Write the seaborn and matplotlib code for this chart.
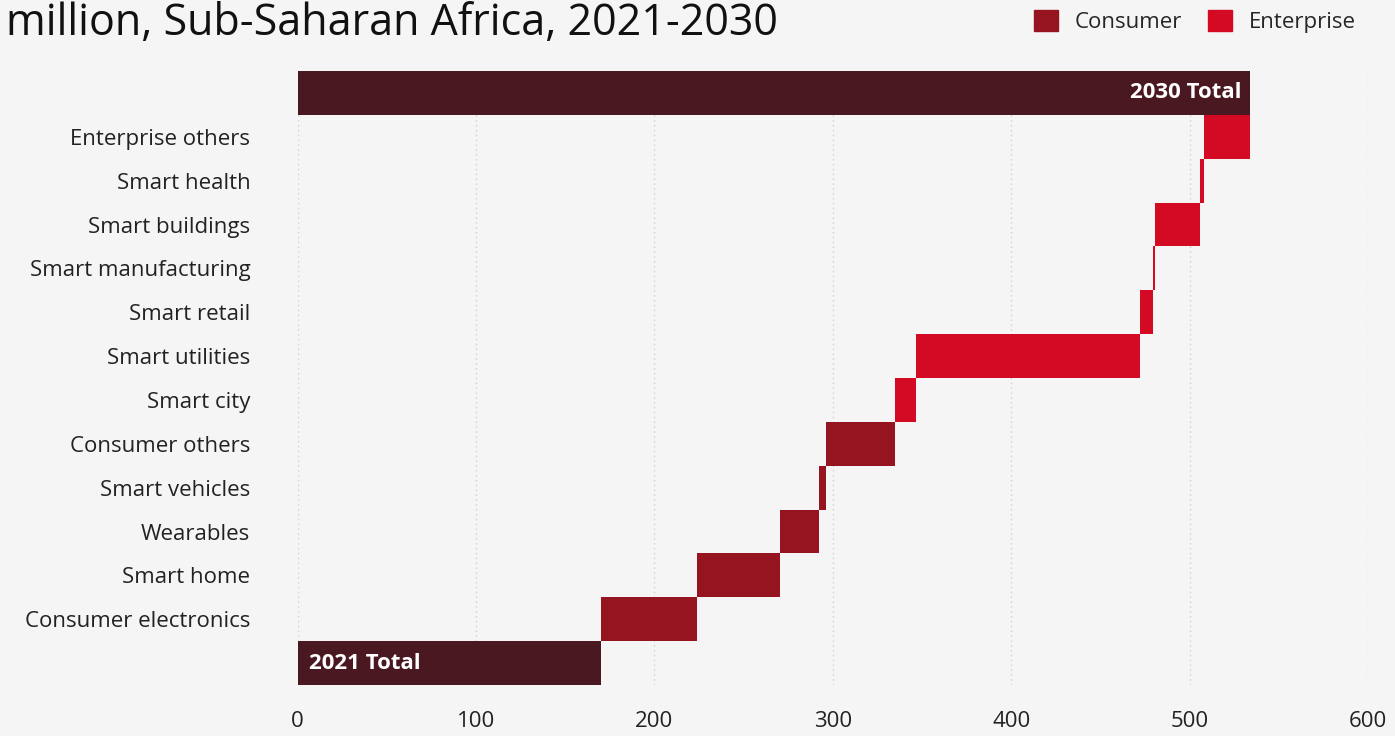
import pandas as pd
import matplotlib.pyplot as plt
import seaborn as sns
from matplotlib.patches import Patch

# valores (milhões)
categorias = ['Consumer electronics', 'Smart home', 'Wearables', 'Smart vehicles',
              'Consumer others', 'Smart city', 'Smart utilities', 'Smart retail',
              'Smart manufacturing', 'Smart buildings', 'Smart health', 'Enterprise others']
incrementos = [54, 46.5, 22, 3.5, 39, 11.6, 125.4, 7.7, 0.8, 25.1, 2.3, 26.2]
segmentos = ['Consumer'] * 5 + ['Enterprise'] * 7
total_2021 = 170
total_2030 = 534
rotulos_x = [0, 100, 200, 300, 400, 500, 600]

cores = {'Consumer': '#961420', 'Enterprise': '#d40a25', 'Total': '#4a1820'}
fundo = '#f5f5f5'

sns.set_theme(style='white', rc={'figure.facecolor': fundo, 'axes.facecolor': fundo})
plt.rcParams['font.family'] = ['Open Sans', 'DejaVu Sans']

# montar tabela do waterfall
linhas = [('2021 Total', 0, total_2021, 'Total')]
acum = total_2021
for cat, inc, seg in zip(categorias, incrementos, segmentos):
    linhas.append((cat, acum, inc, seg))
    acum += inc
linhas.append(('2030 Total', 0, total_2030, 'Total'))
df = pd.DataFrame(linhas, columns=['categoria', 'inicio', 'valor', 'segmento'])
df['pos'] = range(len(df))

fig = plt.figure(figsize=(13.95, 7.36), dpi=100)
ax = fig.add_axes([0.2133, 0.0693, 0.9806 - 0.2133, 0.9035 - 0.0693])

ax.barh(df['pos'], df['valor'], left=df['inicio'], height=1.0,
        color=[cores[s] for s in df['segmento']], linewidth=0, zorder=2)

ax.set_xlim(0, 600)
ax.set_ylim(-0.5, len(df) - 0.5)
ax.set_xticks(rotulos_x)
ax.set_xticklabels([str(v) for v in rotulos_x], fontsize=16, color='#222222')
ax.set_yticks(df['pos'][1:-1])
ax.set_yticklabels(df['categoria'][1:-1], fontsize=16, color='#222222')
ax.tick_params(axis='x', length=0, pad=19)
ax.tick_params(axis='y', length=0, pad=34)
ax.grid(axis='x', linestyle=(0, (1, 2.5)), color='#d0d0d0', linewidth=1, zorder=0)
ax.grid(axis='y', visible=False)
sns.despine(ax=ax, left=True, bottom=True)

# rótulos dentro das barras de total
ax.text(11 / 1.7836, 0, '2021 Total', color='white', fontsize=16, fontweight='bold',
        va='center', ha='left', zorder=3)
ax.text(total_2030 - 5, len(df) - 1, '2030 Total', color='white', fontsize=16,
        fontweight='bold', va='center', ha='right', zorder=3)

fig.text(0.004, 0.953, 'million, Sub-Saharan Africa, 2021-2030', fontsize=31,
         va='baseline', ha='left', color='#111111')

handles = [Patch(color=cores['Consumer'], label='Consumer'),
           Patch(color=cores['Enterprise'], label='Enterprise')]
fig.legend(handles=handles, loc='center right', bbox_to_anchor=(0.978, 0.971), ncol=2,
           frameon=False, fontsize=16, handlelength=1.05, handleheight=1.05,
           handletextpad=0.75, columnspacing=1.2, borderaxespad=0)

plt.savefig('out.png', dpi=100, facecolor=fundo)
plt.close()
